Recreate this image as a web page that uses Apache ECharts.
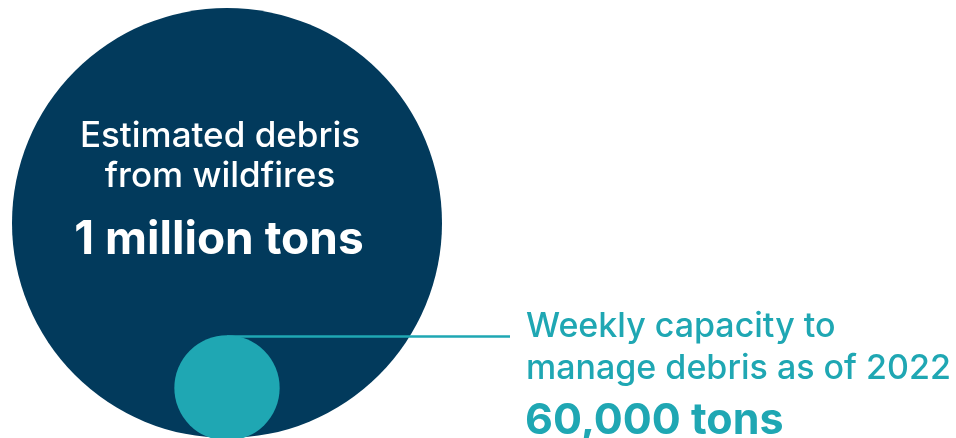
<!DOCTYPE html>
<html>
<head>
<meta charset="utf-8">
<script src="https://cdn.jsdelivr.net/npm/echarts@6/dist/echarts.min.js"></script>
<style>
  html, body { margin: 0; padding: 0; background: #fff; }
  #chart { width: 956px; height: 438px; }
</style>
</head>
<body>
<div id="chart"></div>
<script>
/* 两个圆：面积按吨数成比例 */
var NAMES = ['Estimated debris\nfrom wildfires', 'Weekly capacity to\nmanage debris as of 2022'];
var TONS = [1000000, 60000];
var TON_LABELS = ['1 million tons', '60,000 tons'];
var CENTER_Y = [1, 0.233]; // 圆心高度（以大圆半径为单位）

var NAVY = '#023a5c';
var TEAL = '#1fa7b3';
var FONT = 'Inter';

var maxTons = Math.max.apply(null, TONS);

/* 半径（数据单位）= sqrt(吨数 / 最大吨数) */
var seriesData = TONS.map(function (t, i) {
  var r = Math.sqrt(t / maxTons);
  return { name: NAMES[i], value: [0, CENTER_Y[i], r] };
});

var chart = echarts.init(document.getElementById('chart'));

var option = {
  animation: false,
  grid: { left: 12, top: 8, width: 430, height: 430 },
  xAxis: { type: 'value', min: -1, max: 1, show: false },
  yAxis: { type: 'value', min: 0, max: 2, show: false },
  series: [{
    type: 'custom',
    data: seriesData,
    clip: false,
    renderItem: function (params, api) {
      var r = api.value(2);
      var c = api.coord([api.value(0), api.value(1)]);
      var rp = api.size([r, 0])[0];
      var kids = [{
        type: 'circle',
        shape: { cx: c[0], cy: c[1], r: rp },
        style: { fill: params.dataIndex === 0 ? NAVY : TEAL }
      }];
      if (params.dataIndex === 1) {
        /* 引线：从小圆顶部向右 */
        kids.unshift({
          type: 'line',
          shape: { x1: c[0], y1: c[1] - rp + 1.2, x2: 510, y2: c[1] - rp + 1.2 },
          style: { stroke: TEAL, lineWidth: 2.4 }
        });
      }
      return { type: 'group', children: kids };
    }
  }],
  graphic: [
    {
      type: 'text', z: 10,
      x: 220, y: 116,
      style: {
        text: NAMES[0], fill: '#fff', font: '500 35px ' + FONT,
        align: 'center', lineHeight: 40
      }
    },
    {
      type: 'text', z: 10,
      x: 219, y: 217,
      style: {
        text: TON_LABELS[0], fill: '#fff', font: 'bold 46px ' + FONT,
        align: 'center'
      }
    },
    {
      type: 'text', z: 10,
      x: 526, y: 306,
      style: {
        text: NAMES[1], fill: TEAL, font: '500 34px ' + FONT,
        align: 'left', lineHeight: 42
      }
    },
    {
      type: 'text', z: 10,
      x: 525, y: 400,
      style: {
        text: TON_LABELS[1], fill: TEAL, font: 'bold 43px ' + FONT,
        align: 'left'
      }
    }
  ]
};

chart.setOption(option);
</script>
</body>
</html>
